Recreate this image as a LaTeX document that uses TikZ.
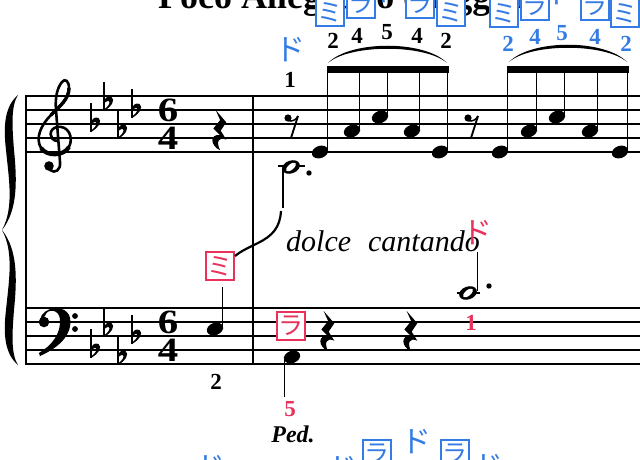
\documentclass[tikz,border=0pt]{standalone}
\usepackage{fontspec}
\setmainfont{Liberation Serif}
\newfontfamily\jpfont{Noto Sans CJK JP}
\definecolor{kblue}{RGB}{52,124,228}
\definecolor{kpink}{RGB}{232,50,92}
\newcommand\flatsign[2]{%
  \begin{scope}[shift={(#1,#2)}]
    \draw[line width=1.4pt] (0,-21) -- (0,8);
    \fill (0,8) .. controls (7,4) and (12,-3) .. (7.5,-6) .. controls (4,-7.5) and (1,-5) .. (0,-3)
      -- (0,0.5) .. controls (2,-2) and (5.5,-3) .. (5.5,-0.5) .. controls (5.5,2) and (2,5) .. (0,6.5) -- cycle;
  \end{scope}}
\newcommand\qhead[2]{\fill[rotate around={20:(#1,#2)}] (#1,#2) ellipse [x radius=8.4pt, y radius=6.1pt];}
\newcommand\hhead[2]{\fill[rotate around={20:(#1,#2)}] (#1,#2) ellipse [x radius=9.2pt, y radius=6.4pt];
  \fill[white, rotate around={40:(#1,#2)}] (#1,#2) ellipse [x radius=6pt, y radius=2.8pt];}
\newcommand\qrest[2]{\begin{scope}[shift={(#1,#2)}, scale=1.12]
  \fill (-3,0) -- (6.5,11) -- (1.5,18.5) -- (6.5,26.5) .. controls (0,23.5) and (-3,28) .. (1,36)
   .. controls (-8,32) and (-8.5,21) .. (1,22.5) -- (-5,16.5) -- (1,9) -- cycle;\end{scope}}
\newcommand\erest[2]{\begin{scope}[shift={(#1,#2)}]
  \fill (0,3) circle [radius=3.6pt];
  \draw[line width=1.5pt] (0,5.5) .. controls (4,7) and (8,5) .. (10,1);
  \draw[line width=1.9pt] (10,1) -- (3,23);\end{scope}}
\begin{document}
\begin{tikzpicture}[x=1pt,y=-1pt,
  staffline/.style={line width=1.2pt},
  barline/.style={line width=2pt},
  stem/.style={line width=1.3pt},
  ledger/.style={line width=1.5pt},
  fing/.style={font=\fontsize{23}{23}\selectfont\bfseries, inner sep=0pt},
  tsig/.style={font=\fontsize{34}{34}\selectfont\bfseries, inner sep=0pt, xscale=1.2},
  titlestyle/.style={font=\fontsize{36}{36}\selectfont\bfseries, inner sep=0pt},
  bbox/.style={draw=kblue, fill=white, line width=1.4pt, minimum width=28pt, minimum height=28pt,
     inner sep=0pt, text=kblue, font=\jpfont\fontsize{25}{25}\selectfont},
  pbox/.style={bbox, draw=kpink, text=kpink},
  ktext/.style={text=kblue, inner sep=0pt, font=\jpfont\fontsize{30}{30}\selectfont},
  ptext/.style={ktext, text=kpink}]
\useasboundingbox (0,0) rectangle (640,460);
\fill[white] (0,0) rectangle (640,460);
\begin{scope}
\clip (0,0) rectangle (640,460);
% title
\node[titlestyle, anchor=base west] (title) at (158,9) {Poco Allegretto e leggiero};
% staves
\foreach \y in {96,110,124,138,152} \draw[staffline] (26,\y) -- (640,\y);
\foreach \y in {308,322,336,350,364} \draw[staffline] (26,\y) -- (640,\y);
\draw[barline] (26,95.4) -- (26,364.6);
\draw[barline] (253,95.4) -- (253,364.6);
% brace
\fill (18,95) .. controls (5,106) and (3,125) .. (6,150) .. controls (9,180) and (14,208) .. (2,230)
   .. controls (18,210) and (17,180) .. (14,150) .. controls (12,125) and (11,106) .. (18,95) -- cycle;
\fill (18,365) .. controls (5,354) and (3,335) .. (6,310) .. controls (9,280) and (14,252) .. (2,230)
   .. controls (18,250) and (17,280) .. (14,310) .. controls (12,335) and (11,354) .. (18,365) -- cycle;
% treble clef
\draw[line width=2.6pt, line cap=round] (57,141) .. controls (49,140) and (48,129) .. (57,127)
   .. controls (68,125) and (74,137) .. (69,147) .. controls (64,156) and (47,157) .. (41,148)
   .. controls (35,138) and (41,125) .. (51,115) .. controls (60,106) and (69,99) .. (69,88)
   .. controls (69,81) and (65,78) .. (62,82) .. controls (57,88) and (55,98) .. (56,110)
   -- (60,162) .. controls (61,170) and (55,174) .. (50,170);
\draw[line width=4.2pt] (69,147) .. controls (64,156) and (47,157) .. (41,148);
\draw[line width=3.4pt] (51,115) .. controls (60,106) and (69,99) .. (69,88);
\fill (49,166) circle [radius=4.8pt];
% bass clef
\fill (40,320) .. controls (42,306) and (67,303) .. (70,318) .. controls (73,335) and (58,348) .. (40,356)
   -- (39,353) .. controls (52,345) and (61,334) .. (60,319) .. controls (59,309) and (47,308) .. (45,316) -- cycle;
\fill (44,322) circle [radius=5.3pt];
\fill (75,316) circle [radius=2.9pt];
\fill (75,329) circle [radius=2.9pt];
% key signatures
\flatsign{91}{124}\flatsign{104}{103}\flatsign{118}{131}\flatsign{132}{110}
\flatsign{91}{350}\flatsign{104}{329}\flatsign{118}{357}\flatsign{132}{336}
% time signatures
\node[tsig] (ts1) at (168,110) {6};
\node[tsig] (ts2) at (168,138) {4};
\node[tsig] (ts3) at (168,322) {6};
\node[tsig] (ts4) at (168,350) {4};
% measure 1
\qrest{219}{110}
\qhead{215}{329}
\draw[stem] (222.5,327) -- (222.5,287);
\node[fing] (f2b) at (216,382) {2};
\node[pbox] (pmi) at (220,266) {ミ};
% measure 2 treble
\node[fing] (f1) at (290,80) {1};
\node[ktext] (do1) at (290,50) {ド};
\erest{288}{115}
\erest{468}{115}
\draw[ledger] (278,166) -- (305,166);
\hhead{291}{167}
\fill (309,173) circle [radius=2.7pt];
\draw[stem] (283,168) -- (283,208);
\draw[line width=2.2pt] (281,211) .. controls (280,228) and (272,236) .. (258,243)
   .. controls (248,248) and (241,251) .. (235,256);
% eighth group 1
\foreach \hx/\hy in {320/152, 352/131, 380/117, 412/131, 440/152}{
  \qhead{\hx}{\hy}
  \draw[stem] (\hx+7.8,\hy-1) -- (\hx+7.8,68);}
\fill (327.2,66) rectangle (448.5,73);
% eighth group 2
\foreach \hx/\hy in {500/152, 529/131, 557/117, 590/131, 620/152}{
  \qhead{\hx}{\hy}
  \draw[stem] (\hx+7.8,\hy-1) -- (\hx+7.8,68);}
\fill (507.2,66) rectangle (628.5,73);
% slurs
\fill (328,63) .. controls (350,40) and (425,40) .. (447,63) .. controls (425,44) and (350,44) .. (328,63) -- cycle;
\fill (509,62) .. controls (531,39) and (605,39) .. (627,62) .. controls (605,43) and (531,43) .. (509,62) -- cycle;
% fingerings
\node[fing] (g1a) at (333,41) {2};
\node[fing] (g1b) at (357,36) {4};
\node[fing] (g1c) at (387,32) {5};
\node[fing] (g1d) at (417,36) {4};
\node[fing] (g1e) at (446,41) {2};
\node[fing, text=kblue] (g2a) at (508,44) {2};
\node[fing, text=kblue] (g2b) at (535,37) {4};
\node[fing, text=kblue] (g2c) at (562,33) {5};
\node[fing, text=kblue] (g2d) at (595,37) {4};
\node[fing, text=kblue] (g2e) at (626,44) {2};
% note-name labels at top
\node[ktext] (t1c) at (388,-9) {ド};
\node[ktext] (t2c) at (561,-7) {ド};
\node[bbox] (t1a) at (330,12) {ミ};
\node[bbox] (t1b) at (361,4) {ラ};
\node[bbox] (t1d) at (420,4) {ラ};
\node[bbox] (t1e) at (451,12) {ミ};
\node[bbox] (t2a) at (504,13) {ミ};
\node[bbox] (t2b) at (535,6) {ラ};
\node[bbox] (t2d) at (595,6) {ラ};
\node[bbox] (t2e) at (625,13) {ミ};
% dolce cantando
\node[anchor=base west, inner sep=0pt, font=\fontsize{30}{30}\selectfont\itshape] (dolce) at (286,251) {dolce\hspace{17pt}cantando};
\node[ptext] (pdo) at (477,233) {ド};
% middle C
\draw[ledger] (457,293) -- (480,293);
\hhead{468}{293}
\fill (489,286) circle [radius=2.7pt];
\draw[stem] (477.5,291) -- (477.5,252);
\node[fing, text=kpink] (p1) at (471,323) {1};
% bass measure 2
\node[pbox] (pla) at (291,326) {ラ};
\qhead{292}{357}
\draw[stem] (284.3,359) -- (284.3,397);
\qrest{327}{311}
\qrest{410}{311}
\node[fing, text=kpink] (p5) at (290,409) {5};
\node[inner sep=0pt, font=\fontsize{24}{24}\selectfont\bfseries\itshape] (ped) at (293,434) {Ped.};
% bottom labels (cut off)
\node[ktext] (b1) at (210,468) {ド};
\node[ktext] (b2) at (342,469) {ド};
\node[bbox] (b3) at (377,454) {ラ};
\node[ktext] (b4) at (416,442) {ド};
\node[bbox] (b5) at (455,454) {ラ};
\node[ktext] (b6) at (488,467) {ド};
\end{scope}
\end{tikzpicture}
\end{document}
